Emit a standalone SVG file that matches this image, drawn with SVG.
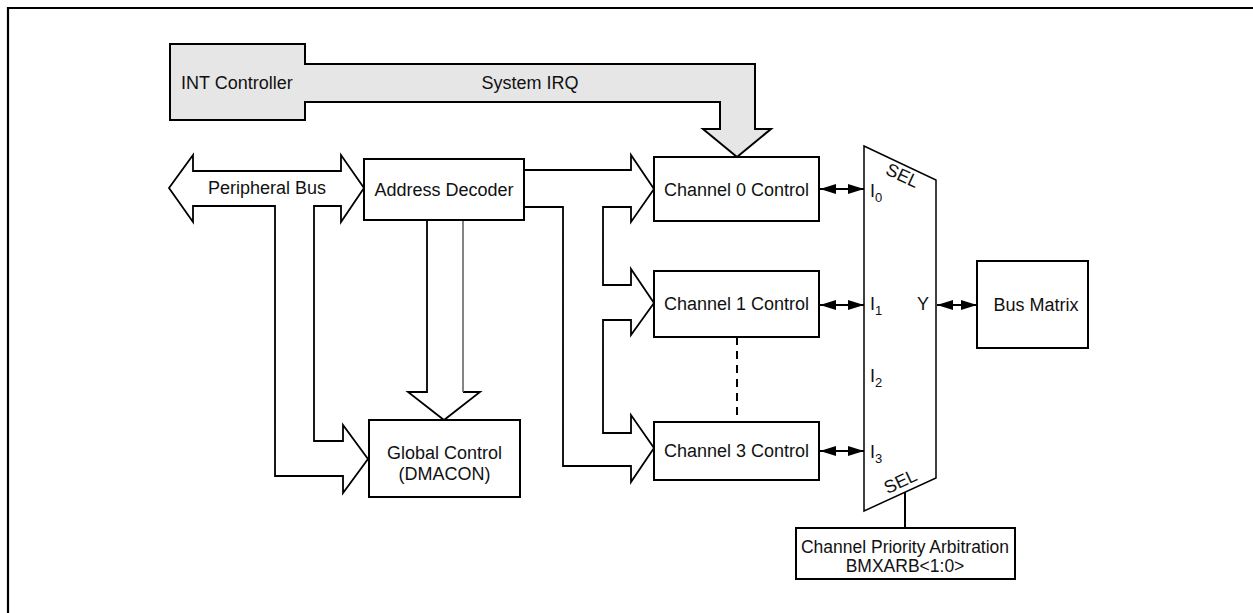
<svg xmlns="http://www.w3.org/2000/svg" width="1253" height="613" viewBox="0 0 1253 613">
<style>
text{font-family:"Liberation Sans",Arial,sans-serif;font-size:18px;fill:#111}
.box{fill:#fff;stroke:#000;stroke-width:2}
.bus{fill:none;stroke:#000;stroke-width:1.8;stroke-linejoin:miter}
.wire{fill:none;stroke:#000;stroke-width:2}
.mid{text-anchor:middle}
.sub{font-size:13px}
</style>
<defs>
<marker id="ah" viewBox="0 0 16 10" refX="16" refY="5" markerWidth="16" markerHeight="10" markerUnits="userSpaceOnUse" orient="auto-start-reverse">
<path d="M0,0 L16,5 L0,10 Z" fill="#000"/>
</marker>
</defs>
<rect width="1253" height="613" fill="#fff"/>
<path d="M8,613 V8 H1253" fill="none" stroke="#000" stroke-width="2.2"/>

<g id="connectors">
<path id="peripheral-bus" class="bus" d="M169,188 L193,155 V171 H341 V155 L364,188 L341,222 V206 H314 V441 H343 V425 L368,459 L343,493 V476 H275 V206 H193 V222 Z"/>
<text class="mid" x="267" y="194">Peripheral Bus</text>
<path id="decoder-bus" class="bus" d="M524,170 H631 V155 L654,189 L631,222 V207 H603 V285 H631 V269 L654,303 L631,335 V320 H603 V433 H631 V415 L654,448 L631,482 V466 H563 V207 H524"/>
<path id="decoder-global" class="bus" d="M427,220 V392 H408 L444,420 L480,392 H463"/>
<line x1="463" y1="220" x2="463" y2="392" stroke="#666" stroke-width="1.6"/>
<line class="wire" x1="737" y1="337" x2="737" y2="422" stroke-dasharray="8 6"/>
<line class="wire" x1="820" y1="189" x2="864" y2="189" marker-start="url(#ah)" marker-end="url(#ah)"/>
<line class="wire" x1="820" y1="305" x2="864" y2="305" marker-start="url(#ah)" marker-end="url(#ah)"/>
<line class="wire" x1="820" y1="451" x2="864" y2="451" marker-start="url(#ah)" marker-end="url(#ah)"/>
<line class="wire" x1="937" y1="305" x2="977" y2="305" marker-start="url(#ah)" marker-end="url(#ah)"/>
<line class="wire" x1="905" y1="492" x2="905" y2="528"/>
</g>

<g id="int-controller">
<path d="M170,44 H305 V64 H755 V129 H771 L737,157 L703,129 H720 V102 H305 V120 H170 Z" fill="#e6e6e6" stroke="#000" stroke-width="2"/>
<text x="181" y="89">INT Controller</text>
<text class="mid" x="530" y="89">System IRQ</text>
</g>

<g id="address-decoder">
<rect class="box" x="364" y="159" width="160" height="61"/>
<text class="mid" x="444" y="196">Address Decoder</text>
</g>

<g id="global-control">
<rect class="box" x="369" y="420" width="151" height="77"/>
<text class="mid" x="444.5" y="459">Global Control</text>
<text class="mid" x="444.5" y="480">(DMACON)</text>
</g>

<g id="channel0">
<rect class="box" x="654" y="157" width="165" height="64"/>
<text class="mid" x="736.5" y="196">Channel 0 Control</text>
</g>

<g id="channel1">
<rect class="box" x="654" y="271" width="165" height="66"/>
<text class="mid" x="736.5" y="310">Channel 1 Control</text>
</g>

<g id="channel3">
<rect class="box" x="654" y="422" width="165" height="58"/>
<text class="mid" x="736.5" y="457">Channel 3 Control</text>
</g>

<g id="mux">
<polygon points="864,146 936,180 936,478 864,511" fill="#fff" stroke="#000" stroke-width="1.5"/>
<text class="mid" transform="translate(900,181) rotate(25)">SEL</text>
<text class="mid" transform="translate(903,487) rotate(-25)">SEL</text>
<text x="870" y="197">I<tspan class="sub" dy="5">0</tspan></text>
<text x="870" y="310">I<tspan class="sub" dy="5">1</tspan></text>
<text x="870" y="382">I<tspan class="sub" dy="5">2</tspan></text>
<text x="870" y="458">I<tspan class="sub" dy="5">3</tspan></text>
<text x="917" y="310">Y</text>
</g>

<g id="bus-matrix">
<rect class="box" x="977" y="261" width="111" height="87"/>
<text class="mid" x="1036" y="311">Bus Matrix</text>
</g>

<g id="arbitration">
<rect class="box" x="796" y="528" width="219" height="51"/>
<text class="mid" x="905" y="553" style="font-size:17.5px">Channel Priority Arbitration</text>
<text class="mid" x="905" y="572" style="font-size:17.5px">BMXARB&lt;1:0&gt;</text>
</g>
</svg>
